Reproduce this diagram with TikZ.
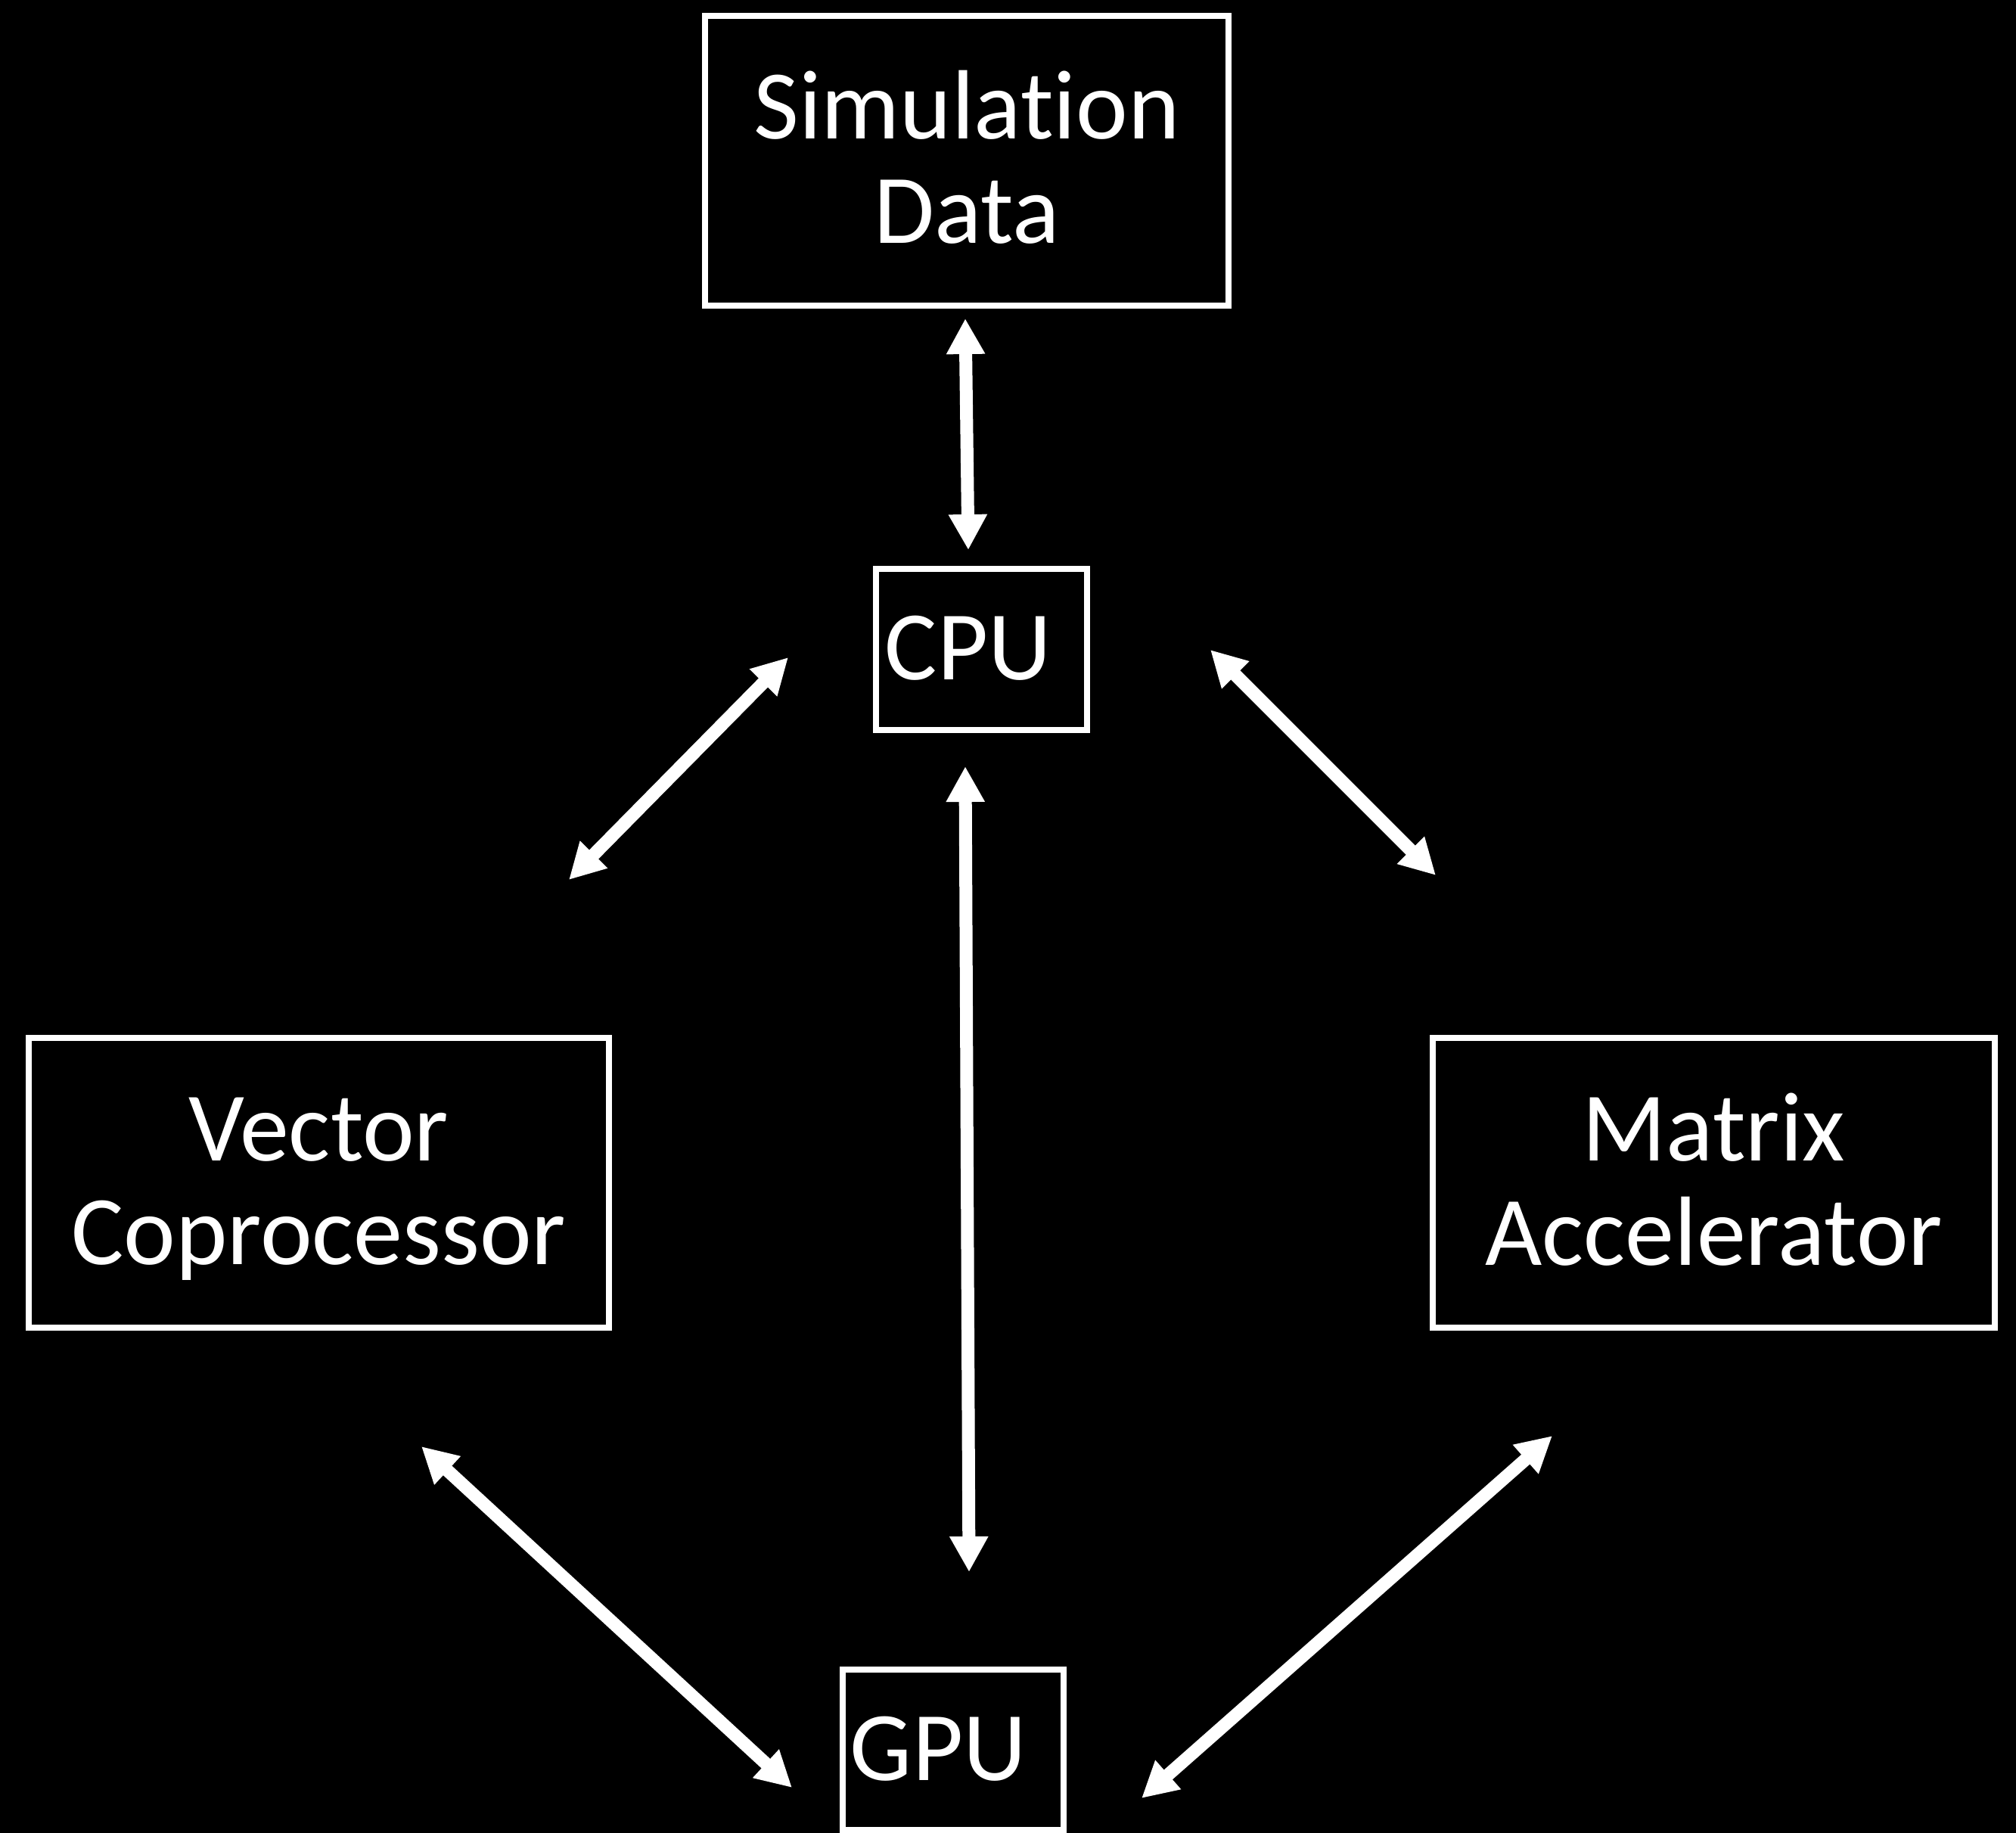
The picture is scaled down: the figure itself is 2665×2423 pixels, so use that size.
\documentclass[tikz,border=0pt]{standalone}
\usepackage{fontspec}
\setmainfont{Carlito}[Ligatures=NoCommon]
\usetikzlibrary{arrows.meta}
\newcommand{\linestrut}{\rule[-0.2cm]{0pt}{1.2cm}}

\begin{document}
\begin{tikzpicture}[x=0.01cm,y=-0.01cm,
    box/.style={draw=white,line width=0.08cm,text=white,align=center,inner sep=0pt,
      font=\fontsize{37}{39}\selectfont},
    link/.style={white,line width=0.17cm,
      {Triangle[length=0.47cm,width=0.48cm]}-{Triangle[length=0.47cm,width=0.48cm]}}]
        \fill[black] (0,0) rectangle (2665,2423);
        \useasboundingbox (0,0) rectangle (2665,2423);

        \path
        (1278,212.5) node[box,minimum width=6.92cm,minimum height=3.83cm](sim) {\linestrut Simulation\\\linestrut Data}
        (1297.5,858.5) node[box,minimum height=2.13cm,text width=2.55cm,inner xsep=0.12cm,align=left](cpu) {\linestrut CPU}
        (421.5,1563.5) node[box,minimum width=7.67cm,minimum height=3.83cm](vec) {\linestrut Vector\\\linestrut Coprocessor}
        (2265.5,1563.5) node[box,minimum width=7.43cm,minimum height=3.83cm](mat) {\linestrut Matrix\\\linestrut Accelerator}
        (1260,2313) node[box,minimum height=2.12cm,text width=2.72cm,inner xsep=0.1cm,align=left](gpu) {\linestrut GPU}
        ;

        \path
        (1276,421) coordinate(simdown)
        (1280,727) coordinate(cpuup)
        (1042,869) coordinate(cpuleft)
        (752,1163) coordinate(vecup)
        (1600,859) coordinate(cpuright)
        (1898,1157) coordinate(matup)
        (1276,1013) coordinate(cpudown)
        (1281,2078) coordinate(gpuup)
        (557,1912) coordinate(vecdown)
        (1047,2363) coordinate(gpuleft)
        (2052,1898) coordinate(matdown)
        (1509,2377) coordinate(gpuright)
        ;

        \draw[link] (simdown) -- (cpuup);
        \draw[link] (cpuleft) -- (vecup);
        \draw[link] (cpuright) -- (matup);
        \draw[link] (cpudown) -- (gpuup);
        \draw[link] (vecdown) -- (gpuleft);
        \draw[link] (matdown) -- (gpuright);
      \end{tikzpicture}
\end{document}
